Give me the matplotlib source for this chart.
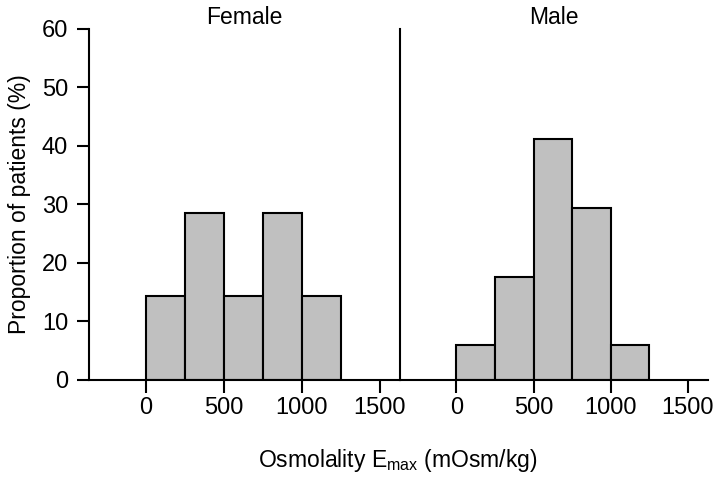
import matplotlib
matplotlib.use("Agg")
import matplotlib.pyplot as plt
import numpy as np

plt.rcParams['font.family'] = ['Liberation Sans', 'DejaVu Sans']
plt.rcParams['mathtext.fontset'] = 'custom'
plt.rcParams['mathtext.rm'] = 'Liberation Sans'

# histogram bins (mOsm/kg), left edges and width
bin_left = [0, 250, 500, 750, 1000]
bin_width = 250
female_pct = [14.3, 28.6, 14.3, 28.6, 14.3]
male_pct = [5.9, 17.6, 41.2, 29.4, 5.9]
x_ticks = [0, 500, 1000, 1500]
y_ticks = [0, 10, 20, 30, 40, 50, 60]

fs = 16.5

fig = plt.figure(figsize=(7.2, 4.83), dpi=100)
ax_f = fig.add_axes([0.1236, 0.2133, 0.432, 0.7267])
ax_m = fig.add_axes([0.5556, 0.2133, 0.4278, 0.7267])

for ax, vals, title in [(ax_f, female_pct, 'Female'), (ax_m, male_pct, 'Male')]:
    ax.bar(bin_left, vals, width=bin_width, align='edge',
           color='#c0c0c0', edgecolor='black', linewidth=1.5)
    ax.set_xlim(-365, 1630)
    ax.set_ylim(0, 60)
    ax.set_xticks(x_ticks)
    ax.set_xticklabels([str(v) for v in x_ticks])
    ax.spines['top'].set_visible(False)
    ax.spines['right'].set_visible(False)
    for s in ['left', 'bottom']:
        ax.spines[s].set_linewidth(1.5)
    ax.tick_params(axis='x', direction='out', length=9, width=1.5,
                   labelsize=fs + 0.5, pad=3)
    ax.tick_params(axis='y', direction='out', length=9, width=1.5,
                   labelsize=fs + 0.5, pad=6)
    ax.set_title(title, fontsize=fs, pad=-1)

ax_f.set_yticks(y_ticks)
ax_f.set_ylabel('Proportion of patients (%)', fontsize=fs, labelpad=8)

ax_m.set_yticks([])
ax_m.spines['left'].set_linewidth(1.5)

fig.text(0.553, 0.047, r'Osmolality E$_{\mathrm{max}}$ (mOsm/kg)',
         ha='center', va='center', fontsize=fs)

fig.savefig('out.png', dpi=100)
